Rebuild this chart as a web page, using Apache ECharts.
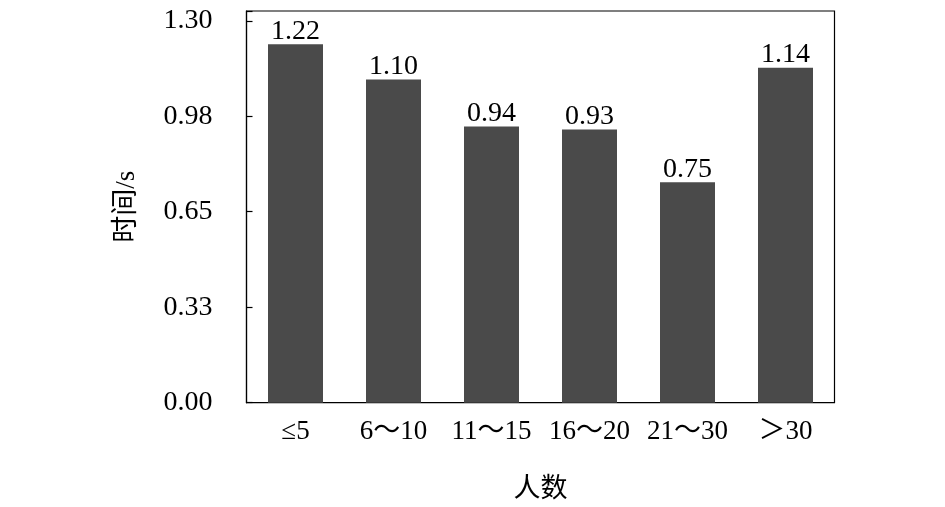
<!DOCTYPE html>
<html><head><meta charset="utf-8">
<script src="https://cdn.jsdelivr.net/npm/echarts@6/dist/echarts.min.js"></script>
<style>html,body{margin:0;padding:0;background:#fff}#c{width:945px;height:507px}</style>
</head><body><div id="c"></div>
<script>
var categories = ['≤5', '6～10', '11～15', '16～20', '21～30', '＞30'];
var values = [1.22, 1.10, 0.94, 0.93, 0.75, 1.14];
var tickValues = [0, 0.325, 0.65, 0.975, 1.3];
var tickLabels = ['0.00', '0.33', '0.65', '0.98', '1.30'];

var font = "'Liberation Serif', 'Times New Roman', 'Noto Sans CJK SC', serif";
var chart = echarts.init(document.getElementById('c'));
chart.setOption({
  animation: false,
  backgroundColor: '#fff',
  grid: {left: 246.5, right: 110.5, top: 11, bottom: 104.3, show: true, borderColor: '#000', borderWidth: 1.2, backgroundColor: 'transparent', containLabel: false, outerBoundsMode: 'none'},
  xAxis: {
    type: 'category', data: categories,
    axisLine: {show: true, lineStyle: {color: '#000', width: 1.2}},
    axisTick: {show: false},
    axisLabel: {color: '#000', fontFamily: font, fontSize: 27, margin: 16, interval: 0, hideOverlap: false},
    name: '人数', nameLocation: 'middle', nameGap: 74,
    nameTextStyle: {color: '#000', fontFamily: font, fontSize: 27}
  },
  yAxis: {
    type: 'value', min: 0, max: 1.3333, interval: 0.325,
    axisLine: {show: true, lineStyle: {color: '#000', width: 1.2}},
    axisTick: {show: true, inside: true, length: 6, lineStyle: {color: '#000', width: 1.2}},
    splitLine: {show: false},
    axisLabel: {color: '#000', fontFamily: font, fontSize: 28, margin: 34,
      formatter: function (v) {
        for (var i = 0; i < tickValues.length; i++) { if (Math.abs(v - tickValues[i]) < 1e-6) return tickLabels[i]; }
        return '';
      }},
    name: '时间/s', nameLocation: 'middle', nameGap: 106, nameRotate: 90,
    nameTextStyle: {color: '#000', fontFamily: font, fontSize: 27}
  },
  series: [{
    type: 'bar', data: values, barWidth: 55,
    itemStyle: {color: '#4a4a4a'},
    label: {show: true, position: 'top', distance: -1, color: '#000', fontFamily: font, fontSize: 28,
      formatter: function (p) { return p.value.toFixed(2); }}
  }]
});
</script></body></html>
